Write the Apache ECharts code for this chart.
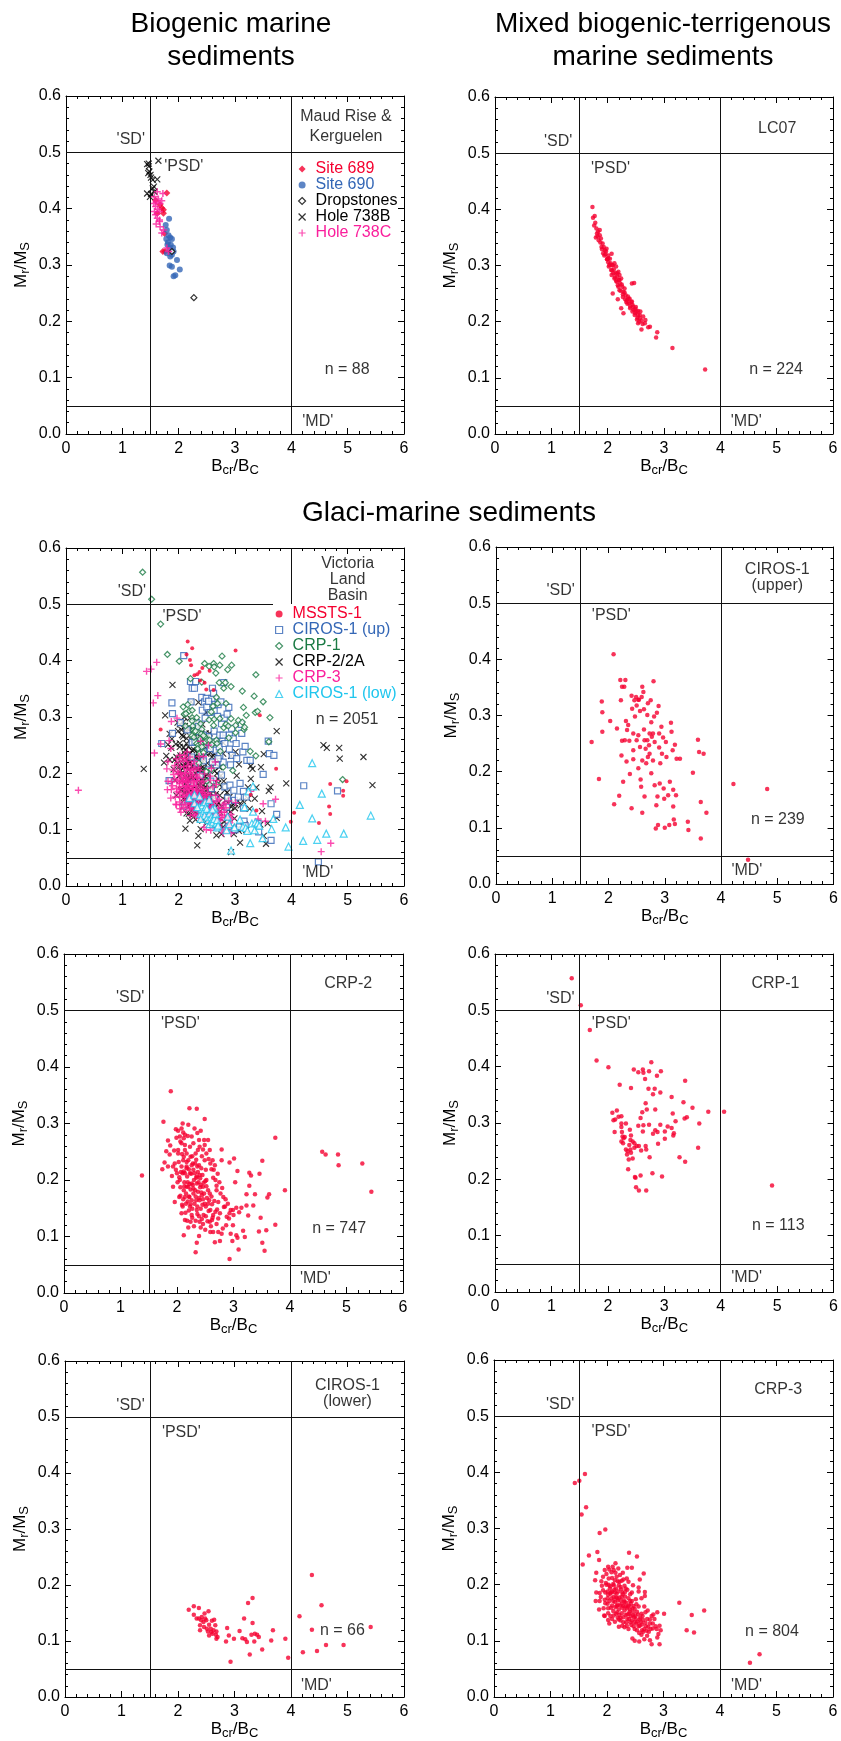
<!DOCTYPE html>
<html><head><meta charset="utf-8">
<script src="https://cdn.jsdelivr.net/npm/echarts@6/dist/echarts.min.js"></script>
<style>html,body{margin:0;padding:0;background:#fff}#c{width:841px;height:1741px}</style>
</head><body><div id="c"></div>
<script>
// ---------------- DATA (Bcr/Bc, Mr/Ms) ----------------
const X_RANGE = [0, 6], X_STEP = 1;
const Y_RANGE = [0, 0.6], Y_STEP = 0.1;
const REF_X = [1.5, 4];
const REF_Y = [0.05, 0.5];

// Biogenic: Maud Rise & Kerguelen
const site689 = [[1.79,0.428],[1.67,0.407],[1.73,0.398],[1.73,0.392],[1.70,0.401],[1.75,0.356],[1.72,0.324],[1.76,0.324],[1.62,0.392],[1.59,0.415]];
const site690 = [[1.83,0.382],[1.77,0.371],[1.79,0.362],[1.82,0.353],[1.85,0.349],[1.78,0.346],[1.88,0.346],[1.81,0.340],[1.86,0.336],[1.90,0.331],[1.84,0.330],[1.79,0.321],[1.88,0.318],[1.91,0.324],[1.97,0.309],[1.84,0.299],[1.88,0.297],[2.02,0.292],[1.91,0.280],[1.94,0.282],[1.85,0.315],[1.80,0.336]];
const dropstones = [[1.88,0.324],[2.27,0.242]];
const hole738B = [[1.44,0.479],[1.47,0.475],[1.48,0.466],[1.46,0.463],[1.50,0.460],[1.51,0.455],[1.54,0.451],[1.62,0.452],[1.64,0.485],[1.56,0.439],[1.54,0.436],[1.44,0.427],[1.51,0.426],[1.49,0.421],[1.57,0.430],[1.47,0.480]];
const hole738C = [[1.62,0.430],[1.57,0.421],[1.64,0.417],[1.60,0.412],[1.67,0.409],[1.70,0.414],[1.59,0.404],[1.63,0.399],[1.66,0.395],[1.59,0.389],[1.62,0.383],[1.66,0.377],[1.60,0.373],[1.67,0.368],[1.73,0.362],[1.70,0.357],[1.66,0.380],[1.57,0.395],[1.56,0.409],[1.82,0.324],[1.79,0.330],[1.72,0.427]];

// Mixed: LC07
const lc07 = [[1.73,0.404],[1.74,0.385],[1.77,0.388],[1.78,0.376],[1.80,0.366],[1.83,0.360],[1.79,0.350],[1.86,0.354],[1.84,0.345],[1.88,0.348],[1.91,0.339],[1.93,0.333],[1.95,0.327],[1.98,0.330],[1.96,0.320],[2.01,0.318],[1.99,0.311],[2.04,0.312],[2.07,0.321],[2.05,0.304],[2.08,0.301],[2.11,0.293],[2.12,0.304],[2.15,0.298],[2.14,0.286],[2.17,0.280],[2.19,0.289],[2.20,0.274],[2.22,0.268],[2.24,0.277],[2.09,0.250],[2.18,0.240],[2.26,0.262],[2.28,0.253],[2.32,0.247],[2.34,0.238],[2.38,0.233],[2.40,0.227],[2.44,0.230],[2.46,0.221],[2.49,0.215],[2.51,0.218],[2.54,0.212],[2.57,0.206],[2.52,0.204],[2.60,0.202],[2.63,0.209],[2.67,0.203],[2.72,0.190],[2.60,0.186],[2.24,0.224],[2.28,0.215],[2.43,0.268],[2.47,0.269],[2.88,0.181],[2.86,0.172],[3.15,0.153],[3.73,0.115],[2.02,0.298],[2.07,0.283],[2.12,0.277],[2.18,0.265],[2.21,0.256],[2.27,0.244],[2.33,0.235],[2.39,0.241],[2.45,0.227],[2.57,0.212],[2.66,0.197],[2.75,0.191],[2.54,0.197],[1.89,0.333],[1.92,0.322],[2.01,0.306],[2.08,0.291],[2.15,0.273],[2.21,0.283],[2.30,0.259],[2.36,0.245],[2.42,0.235],[2.49,0.223],[2.58,0.218],[1.86,0.363],[1.81,0.357],[1.76,0.371],[1.82,0.352],[1.87,0.341],[1.90,0.329],[1.94,0.318],[1.99,0.311],[2.03,0.301],[2.06,0.292],[2.10,0.286],[2.13,0.279],[2.16,0.271],[2.19,0.262],[2.23,0.255],[2.27,0.249],[2.31,0.240],[2.35,0.232],[2.40,0.224],[2.44,0.218],[2.48,0.212],[2.53,0.207],[2.56,0.200],[2.62,0.196],[1.97,0.325],[2.01,0.313],[2.09,0.300],[2.17,0.286],[2.21,0.274],[2.25,0.266],[2.30,0.252],[2.37,0.241],[2.43,0.236],[2.50,0.226],[2.54,0.219]];

// Glaci-marine
const ciros1Up = [[2.09,0.409],[1.70,0.253],[1.83,0.187],[1.88,0.325],[1.89,0.306],[1.89,0.271],[2.03,0.290],[2.10,0.142],[2.15,0.277],[2.19,0.157],[2.21,0.363],[2.30,0.363],[2.22,0.327],[2.24,0.351],[2.28,0.351],[2.24,0.255],[2.23,0.229],[2.26,0.182],[2.31,0.290],[2.33,0.274],[2.32,0.218],[2.37,0.255],[2.38,0.196],[2.41,0.335],[2.42,0.312],[2.41,0.135],[2.44,0.222],[2.46,0.327],[2.49,0.333],[2.50,0.318],[2.47,0.298],[2.50,0.256],[2.53,0.265],[2.54,0.328],[2.56,0.308],[2.57,0.186],[2.58,0.173],[2.59,0.333],[2.60,0.351],[2.60,0.127],[2.62,0.342],[2.63,0.311],[2.63,0.275],[2.64,0.156],[2.66,0.241],[2.67,0.215],[2.69,0.301],[2.69,0.256],[2.70,0.322],[2.72,0.247],[2.73,0.232],[2.75,0.327],[2.76,0.288],[2.77,0.262],[2.79,0.220],[2.80,0.361],[2.81,0.298],[2.82,0.253],[2.82,0.176],[2.84,0.099],[2.85,0.140],[2.86,0.305],[2.88,0.105],[2.87,0.156],[2.89,0.317],[2.90,0.268],[2.90,0.243],[2.91,0.179],[2.92,0.215],[2.94,0.280],[2.95,0.232],[2.97,0.261],[2.98,0.170],[2.99,0.152],[3.00,0.100],[3.02,0.253],[3.03,0.226],[3.06,0.158],[3.08,0.105],[3.09,0.182],[3.11,0.287],[3.12,0.271],[3.14,0.238],[3.15,0.168],[3.15,0.138],[3.16,0.115],[3.18,0.107],[3.18,0.248],[3.20,0.158],[3.21,0.223],[3.27,0.223],[3.41,0.111],[3.42,0.096],[3.50,0.198],[3.59,0.257],[3.61,0.235],[3.64,0.146],[3.64,0.081],[3.69,0.232],[3.74,0.127],[4.22,0.178],[4.82,0.169],[4.48,0.043],[2.53,0.328],[2.44,0.268],[2.56,0.244],[2.64,0.256],[2.73,0.268],[2.79,0.268],[2.60,0.220],[2.70,0.226],[2.35,0.283],[2.29,0.256],[2.44,0.238],[2.53,0.206],[2.76,0.197]];

const crp2 = [[1.38,0.208],[1.89,0.357],[2.22,0.327],[2.35,0.326],[1.76,0.303],[2.49,0.308],[3.74,0.275],[4.57,0.250],[4.63,0.245],[4.85,0.245],[4.86,0.226],[5.28,0.229],[5.44,0.179],[3.91,0.182],[3.51,0.234],[3.46,0.211],[3.01,0.238],[2.93,0.231],[2.79,0.254],[3.07,0.216],[3.03,0.196],[3.28,0.213],[3.31,0.208],[3.23,0.175],[3.28,0.190],[3.38,0.175],[3.60,0.169],[3.63,0.175],[3.48,0.133],[3.74,0.121],[3.45,0.109],[3.58,0.111],[3.51,0.089],[3.55,0.075],[3.09,0.077],[2.93,0.060],[2.76,0.092],[2.67,0.090],[2.35,0.089],[2.33,0.072],[2.39,0.101],[2.12,0.102],[2.20,0.116],[3.20,0.099],[3.17,0.110],[3.07,0.098],[2.98,0.092],[3.35,0.155],[3.23,0.155],[3.26,0.137],[3.14,0.151],[3.05,0.151],[2.99,0.147],[2.93,0.141],[2.92,0.132],[2.81,0.114],[2.87,0.120],[2.99,0.120],[2.95,0.105],[3.05,0.102],[2.79,0.105],[2.73,0.108],[2.64,0.108],[2.59,0.108],[2.46,0.122],[2.58,0.126],[2.70,0.122],
[1.74,0.219],[1.78,0.231],[1.81,0.251],[1.84,0.270],[1.87,0.245],[1.91,0.207],[1.96,0.229],[1.98,0.290],[2.02,0.287],[2.05,0.277],[2.10,0.300],[2.08,0.265],[2.12,0.274],[2.14,0.253],[2.02,0.247],[2.00,0.212],[2.05,0.200],[2.04,0.170],[2.08,0.141],[2.12,0.182],[2.17,0.224],[2.18,0.206],[2.20,0.188],[2.22,0.170],[2.23,0.153],[2.26,0.138],[2.27,0.242],[2.29,0.218],[2.30,0.200],[2.32,0.182],[2.34,0.164],[2.35,0.147],[2.36,0.283],[2.37,0.253],[2.39,0.226],[2.40,0.209],[2.42,0.191],[2.44,0.173],[2.45,0.156],[2.47,0.138],[2.48,0.271],[2.49,0.235],[2.51,0.218],[2.52,0.200],[2.55,0.182],[2.57,0.164],[2.59,0.147],[2.62,0.129],[2.55,0.271],[2.58,0.253],[2.63,0.235],[2.65,0.218],[2.68,0.200],[2.70,0.182],[2.73,0.161],[2.76,0.141],[2.79,0.235],[2.82,0.170],[2.85,0.153],[2.11,0.235],[2.14,0.212],[2.20,0.235],[2.23,0.259],[2.26,0.277],[1.93,0.188],[1.96,0.161],[2.09,0.156],[2.14,0.129],[2.24,0.126],[2.40,0.126],[2.51,0.136],[2.64,0.138],[2.35,0.194],[2.37,0.179],[2.32,0.229],[2.26,0.194],[2.17,0.188],[2.23,0.212],[2.43,0.221],[2.46,0.188],[2.35,0.206],[2.29,0.176],[2.40,0.164],[2.49,0.158],[2.26,0.164],[2.14,0.170],[2.10,0.212],[2.08,0.224],[2.17,0.247],[2.08,0.291],[2.14,0.280],[2.40,0.259],[2.52,0.247],[2.02,0.253],[1.93,0.224],[1.84,0.224],
[2.12,0.215],[2.17,0.232],[2.21,0.219],[2.26,0.226],[2.31,0.212],[2.36,0.224],[2.41,0.203],[2.19,0.196],[2.24,0.183],[2.28,0.191],[2.33,0.171],[2.38,0.196],[2.43,0.178],[2.47,0.195],[2.53,0.168],[2.58,0.176],[2.16,0.158],[2.21,0.171],[2.27,0.149],[2.31,0.158],[2.36,0.140],[2.42,0.149],[2.46,0.166],[2.51,0.153],[2.56,0.145],[2.62,0.157],[2.68,0.144],[2.73,0.132],[2.06,0.187],[2.11,0.166],[2.04,0.205],[2.09,0.246],[2.14,0.262],[2.24,0.241],[2.34,0.236],[2.44,0.242],[2.29,0.265],[2.39,0.271],[2.49,0.262],[2.59,0.229],[2.64,0.204],[2.70,0.190],[2.77,0.176],[2.83,0.152],[2.88,0.135],[2.42,0.116],[2.50,0.112],[2.60,0.118],[2.30,0.118],[2.18,0.128],
[2.03,0.232],[2.07,0.214],[2.13,0.196],[2.16,0.176],[2.19,0.162],[2.22,0.193],[2.25,0.211],[2.28,0.229],[2.33,0.247],[2.37,0.214],[2.41,0.187],[2.45,0.209],[2.48,0.176],[2.52,0.189],[2.55,0.158],[2.61,0.171],[2.66,0.163],[2.71,0.148],[2.21,0.146],[2.27,0.133],[2.33,0.128],[2.39,0.136],[2.44,0.131],[2.54,0.127],[2.63,0.133],[2.06,0.172],[2.10,0.153],[2.15,0.142],[2.01,0.196],[1.98,0.218],[2.06,0.268],[2.11,0.284],[2.19,0.278],[2.20,0.298],[2.31,0.291],[2.42,0.287],[2.46,0.254],[2.56,0.237],[2.61,0.219],[2.67,0.226],[2.72,0.211],[2.75,0.196],[2.80,0.186],[2.86,0.166],[2.90,0.158],[2.95,0.147],[3.00,0.138],[3.10,0.143],[2.29,0.185],[2.34,0.204],[2.39,0.168],[2.24,0.157],[2.17,0.221],[2.12,0.241],[1.95,0.252],[1.88,0.261],[1.99,0.275],[2.13,0.189],[2.36,0.153],[2.50,0.198]];

const crp1 = [[1.36,0.557],[1.52,0.509],[1.68,0.465],[1.80,0.411],[2.01,0.399],[2.21,0.368],[2.08,0.318],[2.10,0.305],[2.16,0.322],[2.13,0.306],[2.19,0.311],[2.24,0.312],[2.12,0.284],[2.24,0.299],[2.24,0.293],[2.25,0.284],[2.26,0.276],[2.28,0.273],[2.24,0.267],[2.27,0.264],[2.30,0.275],[2.32,0.299],[2.32,0.253],[2.35,0.250],[2.34,0.244],[2.37,0.235],[2.36,0.218],[2.39,0.288],[2.41,0.278],[2.40,0.270],[2.40,0.253],[2.41,0.362],[2.44,0.237],[2.46,0.395],[2.47,0.264],[2.48,0.204],[2.47,0.256],[2.51,0.259],[2.49,0.203],[2.50,0.186],[2.54,0.390],[2.55,0.259],[2.54,0.295],[2.55,0.180],[2.58,0.207],[2.58,0.309],[2.59,0.251],[2.61,0.319],[2.62,0.395],[2.63,0.389],[2.63,0.296],[2.62,0.285],[2.66,0.378],[2.67,0.335],[2.67,0.259],[2.68,0.253],[2.68,0.180],[2.69,0.324],[2.72,0.361],[2.73,0.392],[2.73,0.297],[2.74,0.239],[2.77,0.408],[2.79,0.211],[2.80,0.351],[2.80,0.281],[2.83,0.361],[2.84,0.287],[2.84,0.324],[2.87,0.384],[2.88,0.284],[2.89,0.263],[2.93,0.297],[2.93,0.354],[2.94,0.392],[2.96,0.205],[3.01,0.285],[3.01,0.272],[3.06,0.294],[3.13,0.346],[3.13,0.291],[3.15,0.317],[3.16,0.278],[3.17,0.282],[3.20,0.303],[3.27,0.239],[3.34,0.337],[3.36,0.308],[3.37,0.375],[3.37,0.231],[3.40,0.310],[3.50,0.327],[3.60,0.256],[3.62,0.299],[3.78,0.320],[4.06,0.320],[4.91,0.189],[2.41,0.247],[2.44,0.267],[2.38,0.261]];

const ciros1Low = [[2.19,0.156],[2.28,0.162],[2.28,0.147],[2.37,0.159],[2.37,0.140],[2.39,0.128],[2.41,0.137],[2.42,0.143],[2.45,0.134],[2.46,0.125],[2.47,0.149],[2.48,0.140],[2.50,0.137],[2.51,0.122],[2.53,0.117],[2.54,0.153],[2.55,0.129],[2.55,0.110],[2.58,0.122],[2.59,0.116],[2.61,0.113],[2.63,0.119],[2.64,0.138],[2.66,0.128],[2.67,0.111],[2.68,0.117],[2.68,0.104],[2.70,0.107],[2.85,0.099],[2.87,0.123],[2.90,0.110],[2.93,0.063],[2.99,0.104],[3.09,0.118],[3.14,0.105],[3.17,0.140],[3.19,0.103],[3.22,0.098],[3.24,0.168],[3.27,0.076],[3.30,0.111],[3.32,0.132],[3.32,0.177],[3.35,0.099],[3.36,0.113],[3.40,0.111],[3.43,0.107],[3.49,0.085],[3.65,0.101],[3.68,0.119],[3.90,0.104],[3.95,0.070],[4.15,0.144],[4.21,0.080],[4.37,0.218],[4.37,0.120],[4.46,0.082],[4.54,0.164],[4.62,0.093],[4.93,0.093],[5.41,0.125],[2.39,0.119],[2.33,0.140],[2.60,0.136]];

const crp3 = [[1.43,0.381],[1.51,0.385],[1.61,0.397],[1.55,0.325],[1.63,0.338],[1.57,0.236],[1.68,0.252],[1.87,0.292],[1.97,0.298],[1.83,0.258],[1.86,0.244],[2.39,0.257],[2.53,0.250],[2.65,0.220],[3.28,0.168],[3.41,0.119],[3.50,0.146],[3.54,0.115],[3.72,0.154],[4.53,0.061],[4.70,0.076],[3.01,0.148],[2.89,0.151],[2.93,0.127],[2.95,0.119],[2.93,0.094],[2.79,0.094],[2.89,0.106],[2.45,0.104],[2.49,0.100],[2.76,0.138],[2.82,0.147],[2.67,0.187],[2.67,0.180],[2.58,0.209],[2.56,0.195],[2.36,0.230],[2.44,0.230],[2.15,0.238],[2.02,0.232],[1.96,0.226],[1.81,0.221],[1.79,0.208],[1.80,0.171],[1.81,0.186],[1.87,0.185],[1.86,0.156],[1.96,0.144],
[1.93,0.214],[1.98,0.203],[2.03,0.211],[2.08,0.222],[2.14,0.208],[2.01,0.188],[2.06,0.197],[2.11,0.201],[2.16,0.193],[2.21,0.199],[2.26,0.207],[2.31,0.198],[1.89,0.178],[1.96,0.173],[2.02,0.182],[2.07,0.186],[2.12,0.178],[2.17,0.184],[2.22,0.177],[2.27,0.186],[2.32,0.179],[2.36,0.191],[2.41,0.183],[1.94,0.158],[2.01,0.166],[2.04,0.171],[2.09,0.163],[2.14,0.169],[2.19,0.164],[2.24,0.172],[2.29,0.162],[2.34,0.168],[2.39,0.163],[2.44,0.171],[2.51,0.174],[2.02,0.149],[2.06,0.144],[2.11,0.153],[2.16,0.148],[2.21,0.156],[2.26,0.149],[2.31,0.154],[2.36,0.147],[2.41,0.156],[2.46,0.151],[2.49,0.157],[2.56,0.161],[2.61,0.148],[2.14,0.134],[2.19,0.141],[2.24,0.136],[2.29,0.142],[2.34,0.133],[2.39,0.139],[2.44,0.136],[2.48,0.142],[2.54,0.134],[2.59,0.141],[2.64,0.137],[2.71,0.139],[2.31,0.124],[2.38,0.121],[2.47,0.126],[2.53,0.119],[2.58,0.127],[2.66,0.121],[2.69,0.126],[2.76,0.131],[2.61,0.111],[2.71,0.109],[2.74,0.116],[2.81,0.122],[2.12,0.226],[2.23,0.217],[2.28,0.221],[2.04,0.227],[1.91,0.198],[1.87,0.171],[2.18,0.176],[2.27,0.159],[2.33,0.146],[2.42,0.144],[2.47,0.162],[2.38,0.176],[2.13,0.191],[2.07,0.159],[2.22,0.146],[2.52,0.131],[2.62,0.129],[2.68,0.151],[2.33,0.193],[2.19,0.206],[2.01,0.176],[1.97,0.186],[2.46,0.199],[2.56,0.188],[2.61,0.176],[2.35,0.211],[2.44,0.186],[2.66,0.161],[2.72,0.154],[2.79,0.144],[2.84,0.139],[2.86,0.126],[2.91,0.112],[2.76,0.101],[2.57,0.099],[2.66,0.103],[2.21,0.125],[2.09,0.139],[2.04,0.131],[2.25,0.192],[2.15,0.160],[2.35,0.158],[2.43,0.128],[2.55,0.147],[1.99,0.200],[2.09,0.212],[2.20,0.188],[2.30,0.172],[2.40,0.152],[2.50,0.145],
[2.06,0.184],[2.11,0.171],[2.16,0.177],[2.23,0.163],[2.26,0.178],[2.31,0.169],[2.37,0.161],[2.42,0.166],[2.46,0.145],[2.53,0.152],[2.58,0.138],[2.63,0.144],[2.18,0.151],[2.24,0.141],[2.29,0.133],[2.35,0.127],[2.41,0.133],[2.49,0.121],[2.57,0.114],[2.64,0.116],[2.12,0.199],[2.17,0.214],[2.24,0.196],[2.29,0.209],[2.02,0.158],[1.97,0.167],[1.93,0.190],[2.08,0.176],[2.20,0.229],[2.10,0.232],[2.38,0.205],[2.52,0.165],[2.73,0.125],[2.81,0.131],[2.88,0.121],[2.68,0.132],
[2.05,0.193],[2.14,0.186],[2.19,0.172],[2.28,0.183],[2.33,0.161],[2.21,0.138],[2.27,0.127],[2.45,0.158],[2.51,0.139],[2.60,0.133],[2.70,0.118],[2.77,0.121],[2.36,0.139],[2.32,0.187],[2.15,0.221],[1.99,0.219],[1.90,0.206],[1.95,0.145],[2.02,0.137],[2.12,0.145],[2.17,0.162],[2.39,0.148],[2.48,0.133],[2.56,0.126],[2.62,0.119],[2.26,0.166],[2.41,0.171],[2.09,0.188],[2.22,0.205],[2.03,0.200]];
const crp3Composite = [[0.22,0.17]];  // extra CRP-3 point shown only in the composite plot

const mssts1 = [[2.16,0.434],[2.24,0.422],[3.01,0.418],[2.14,0.411],[2.22,0.392],[2.20,0.401],[2.33,0.376],[2.37,0.380],[2.28,0.374],[2.42,0.387],[2.55,0.382],[2.49,0.349],[2.62,0.348],[1.68,0.278],[3.44,0.303],[3.73,0.208],[4.69,0.181],[4.92,0.169],[4.98,0.186],[4.92,0.160],[4.67,0.141],[4.69,0.128],[4.49,0.112],[3.99,0.114],[4.05,0.130],[3.28,0.162],[3.38,0.134],[2.38,0.365],[2.46,0.361]];

// ---------------- STYLE / LAYOUT ----------------
const FONT = '"Liberation Sans", Arial, Helvetica, sans-serif';
const RED = '#f5002f', BLUE = '#3467b6', GREEN = '#1a7a44', PINK = '#fa1f9c', CYAN = '#1fc6ee', INK = '#000';
const X_PATH = 'path://M0,0L10,10M10,0L0,10';
const PLUS_PATH = 'path://M5,0L5,10M0,5L10,5';

const GRIDS = [
  {left:66, top:96, width:338, height:338},
  {left:495, top:97, width:338, height:337},
  {left:66, top:548, width:338, height:338},
  {left:496, top:547, width:338, height:337},
  {left:64, top:954, width:339, height:339},
  {left:495, top:954, width:339, height:338},
  {left:65, top:1361, width:339, height:338},
  {left:494, top:1360, width:339, height:338}
];
const LABELS = [
  [[1.15,0.522,"'SD'"],[2.09,0.475,"'PSD'"],[4.47,0.022,"'MD'"],[4.97,0.5455,'Maud Rise &\nKerguelen',20],[4.99,0.115,'n = 88']],
  [[1.12,0.521,"'SD'"],[2.05,0.473,"'PSD'"],[4.46,0.0225,"'MD'"],[5.01,0.543,'LC07'],[4.99,0.115,'n = 224']],
  [[1.17,0.522,"'SD'"],[2.06,0.479,"'PSD'"],[4.47,0.023,"'MD'"],[5.0,0.544,'Victoria\nLand\nBasin',16],[4.99,0.296,'n = 2051']],
  [[1.15,0.523,"'SD'"],[2.05,0.478,"'PSD'"],[4.46,0.024,"'MD'"],[5.0,0.545,'CIROS-1\n(upper)',16],[5.01,0.114,'n = 239']],
  [[1.17,0.522,"'SD'"],[2.06,0.477,"'PSD'"],[4.45,0.025,"'MD'"],[5.03,0.548,'CRP-2'],[4.87,0.114,'n = 747']],
  [[1.16,0.521,"'SD'"],[2.06,0.476,"'PSD'"],[4.46,0.025,"'MD'"],[4.97,0.547,'CRP-1'],[5.02,0.118,'n = 113']],
  [[1.16,0.520,"'SD'"],[2.06,0.473,"'PSD'"],[4.45,0.021,"'MD'"],[5.0,0.542,'CIROS-1\n(lower)',16],[4.91,0.119,'n = 66']],
  [[1.17,0.520,"'SD'"],[2.07,0.473,"'PSD'"],[4.47,0.021,"'MD'"],[5.03,0.547,'CRP-3'],[4.92,0.116,'n = 804']]
];

const grids = [], xAxes = [], yAxes = [], series = [];
const axisCommon = {
  axisLine:{show:true, onZero:false, lineStyle:{color:'#000', width:1}},
  axisTick:{show:true, inside:true, length:6, lineStyle:{color:'#000', width:1}},
  minorTick:{show:true, splitNumber:5, length:3, lineStyle:{color:'#000', width:1}},
  splitLine:{show:false}, minorSplitLine:{show:false}
};
const richName = {
  b:{fontSize:17, fontFamily:FONT, color:INK},
  s:{fontSize:13, fontFamily:FONT, color:INK, padding:[8,0,0,0]}
};
GRIDS.forEach((g, gi) => {
  grids.push(Object.assign({containLabel:false}, g));
  xAxes.push(Object.assign({}, axisCommon, {
    type:'value', gridIndex:gi, position:'bottom', min:X_RANGE[0], max:X_RANGE[1], interval:X_STEP,
    axisLabel:{show:true, fontSize:16, color:INK, fontFamily:FONT, margin:7, showMinLabel:true, showMaxLabel:true},
    name:'{b|B}{s|cr}/{b|B}{s|C}', nameLocation:'middle', nameGap:22,
    nameTextStyle:{fontSize:17, fontFamily:FONT, color:INK, rich:richName}
  }));
  xAxes.push(Object.assign({}, axisCommon, {
    type:'value', gridIndex:gi, position:'top', min:X_RANGE[0], max:X_RANGE[1], interval:X_STEP,
    axisLabel:{show:false}
  }));
  yAxes.push(Object.assign({}, axisCommon, {
    type:'value', gridIndex:gi, position:'left', min:Y_RANGE[0], max:Y_RANGE[1], interval:Y_STEP,
    axisLabel:{show:true, fontSize:16, color:INK, fontFamily:FONT, margin:5, showMinLabel:true, showMaxLabel:true,
      formatter:v => v.toFixed(1)},
    name:'{b|M}{s|r}/{b|M}{s|S}', nameLocation:'middle', nameGap:34,
    nameTextStyle:{fontSize:17, fontFamily:FONT, color:INK, rich:richName}
  }));
  yAxes.push(Object.assign({}, axisCommon, {
    type:'value', gridIndex:gi, position:'right', min:Y_RANGE[0], max:Y_RANGE[1], interval:Y_STEP,
    axisLabel:{show:false}
  }));
  // labels (first one also hosts the reference lines)
  LABELS[gi].forEach((l, li) => {
    const s = {
      type:'scatter', name:'_lbl' + gi + '_' + li, xAxisIndex:2*gi, yAxisIndex:2*gi,
      data:[[l[0], l[1]]], symbol:'circle', symbolSize:1, itemStyle:{color:'rgba(0,0,0,0)'},
      silent:true, z:6,
      label:{show:true, position:'inside', formatter:l[2], color:'#000', fontSize:16, fontFamily:FONT,
        lineHeight:l[3] || 18, align:'center', verticalAlign:'middle', textBorderWidth:0}
    };
    if (li === 0) {
      s.markLine = {
        silent:true, symbol:['none','none'], label:{show:false}, animation:false,
        lineStyle:{color:'#111', width:1, type:'solid'}, emphasis:{disabled:true},
        data: REF_X.map(v => ({xAxis:v})).concat(REF_Y.map(v => ({yAxis:v})))
      };
    }
    series.push(s);
  });
});

function pts(gi, name, data, symbol, size, itemStyle) {
  series.push({type:'scatter', name, xAxisIndex:2*gi, yAxisIndex:2*gi, data, symbol, symbolSize:size,
    symbolKeepAspect:true, itemStyle, silent:true, emphasis:{disabled:true}});
}
const dot = {color:RED};
// panel 0
pts(0, 'Site 689', site689, 'diamond', 7, {color:RED});
pts(0, 'Site 690', site690, 'circle', 6, {color:BLUE});
pts(0, 'Dropstones', dropstones, 'diamond', 6, {color:'#fff', borderColor:'#000', borderWidth:1.2});
pts(0, 'Hole 738B', hole738B, X_PATH, 6, {color:'rgba(0,0,0,0)', borderColor:'#000', borderWidth:1.2});
pts(0, 'Hole 738C', hole738C, PLUS_PATH, 7, {color:'rgba(0,0,0,0)', borderColor:PINK, borderWidth:1.5});
// panel 1
pts(1, 'LC07', lc07, 'circle', 4.5, dot);
// panel 2 composite
pts(2, 'CRP-2/2A', crp2, X_PATH, 6, {color:'rgba(0,0,0,0)', borderColor:'#000', borderWidth:1.1});
pts(2, 'CIROS-1 (up)', ciros1Up, 'rect', 6, {color:'#fff', borderColor:BLUE, borderWidth:1.2});
pts(2, 'CRP-1', crp1, 'diamond', 6, {color:'#fff', borderColor:GREEN, borderWidth:1.2});
pts(2, 'CRP-3', crp3.concat(crp3Composite), PLUS_PATH, 7, {color:'rgba(0,0,0,0)', borderColor:PINK, borderWidth:1.4});
pts(2, 'CIROS-1 (low)', ciros1Low, 'triangle', 7, {color:'#fff', borderColor:CYAN, borderWidth:1.2});
pts(2, 'MSSTS-1', mssts1, 'circle', 4, {color:RED});
// single panels
pts(3, 'CIROS-1 upper data', ciros1Up, 'circle', 4.5, dot);
pts(4, 'CRP-2 data', crp2, 'circle', 4.5, dot);
pts(5, 'CRP-1 data', crp1, 'circle', 4.5, dot);
pts(6, 'CIROS-1 lower data', ciros1Low, 'circle', 4.5, dot);
pts(7, 'CRP-3 data', crp3, 'circle', 4.5, dot);

const titleStyle = {fontSize:28, fontWeight:'normal', fontFamily:FONT, color:'#000', lineHeight:33};
const option = {
  animation:false,
  backgroundColor:'#fff',
  textStyle:{fontFamily:FONT},
  title:[
    {text:'Biogenic marine\nsediments', left:231, top:8, textAlign:'center', padding:0, textStyle:titleStyle},
    {text:'Mixed biogenic-terrigenous\nmarine sediments', left:663, top:8, textAlign:'center', padding:0, textStyle:titleStyle},
    {text:'Glaci-marine sediments', left:449, top:497, textAlign:'center', padding:0, textStyle:titleStyle}
  ],
  legend:[
    {orient:'vertical', left:298, top:161, padding:0, itemWidth:7, itemHeight:7, itemGap:0, selectedMode:false, z:10,
     itemStyle:{borderWidth:1.2},
     textStyle:{fontSize:16, lineHeight:16, fontFamily:FONT, padding:[0,0,0,5]},
     data:[
      {name:'Site 689', textStyle:{color:RED}},
      {name:'Site 690', textStyle:{color:BLUE}},
      {name:'Dropstones', textStyle:{color:'#000'}},
      {name:'Hole 738B', textStyle:{color:'#000'}},
      {name:'Hole 738C', textStyle:{color:PINK}}
     ]},
    {orient:'vertical', left:273, top:604, padding:[2,2,8,2], itemWidth:7, itemHeight:7, itemGap:0, selectedMode:false, z:10,
     backgroundColor:'#fff', itemStyle:{borderWidth:1.2},
     textStyle:{fontSize:16, lineHeight:14, fontFamily:FONT, padding:[0,0,0,5]},
     data:[
      {name:'MSSTS-1', textStyle:{color:RED}},
      {name:'CIROS-1 (up)', textStyle:{color:BLUE}},
      {name:'CRP-1', textStyle:{color:GREEN}},
      {name:'CRP-2/2A', textStyle:{color:'#000'}},
      {name:'CRP-3', textStyle:{color:PINK}},
      {name:'CIROS-1 (low)', textStyle:{color:CYAN}}
     ]}
  ],
  grid:grids, xAxis:xAxes, yAxis:yAxes, series
};
const chart = echarts.init(document.getElementById('c'), null, {renderer:'canvas'});
chart.setOption(option);
</script></body></html>
